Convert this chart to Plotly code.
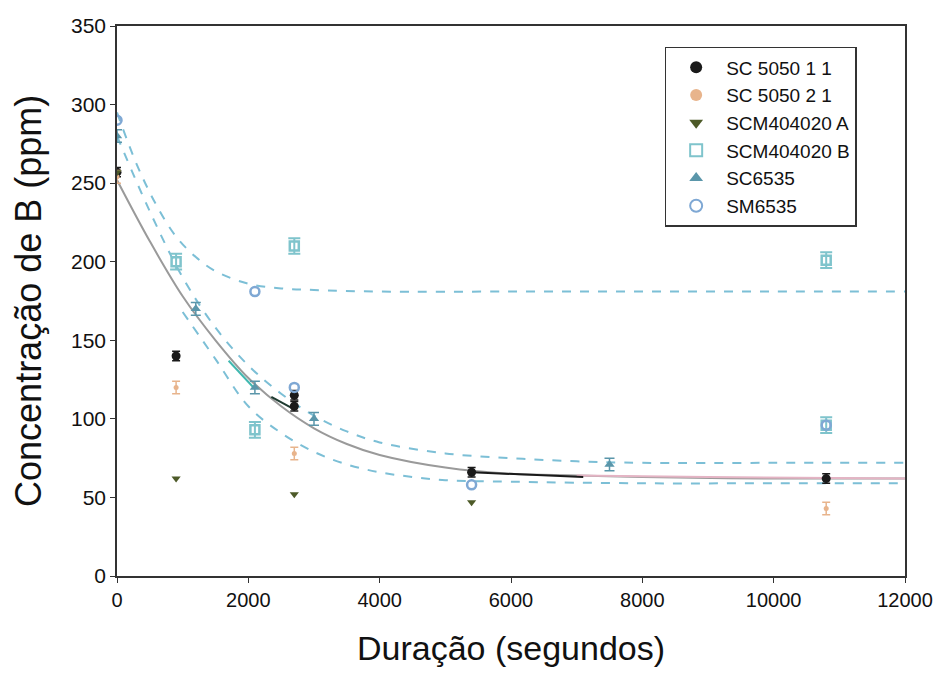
import plotly.graph_objects as go

# ---- data ----
sc5050_11_x = [0, 900, 2700, 2700, 5400, 10800]
sc5050_11_y = [257, 140, 115, 108, 66, 62]

sc5050_21_x = [0, 900, 2700, 10800]
sc5050_21_y = [254, 120, 78, 43]

scm_a_x = [0, 900, 2700, 5400]
scm_a_y = [257, 62, 52, 47]

scm_b_x = [900, 2100, 2700, 10800, 10800]
scm_b_y = [200, 93, 210, 201, 96]

sc6535_x = [0, 1200, 2100, 3000, 7500]
sc6535_y = [280, 170, 120, 100, 71]

sm6535_x = [0, 2100, 2700, 5400, 10800]
sm6535_y = [290, 181, 120, 58, 96]

x_tickvals = [0, 2000, 4000, 6000, 8000, 10000, 12000]
x_ticktext = ["0", "2000", "4000", "6000", "8000", "10000", "12000"]
y_tickvals = [0, 50, 100, 150, 200, 250, 300, 350]

# fitted curves
fit_gray_x = [0, 500, 1000, 1500, 2000, 2500, 3000, 3500, 4000, 5000, 6000, 7000, 8000, 10000, 12000]
fit_gray_y = [252, 213, 178, 150, 126, 108, 94, 84, 77, 69, 65, 64, 63, 62, 62]

fit_up_x = [0, 300, 600, 900, 1200, 1500, 2000, 2500, 3000, 4000, 6000, 8000, 10000, 12000]
fit_up_y = [295, 262, 236, 216, 203, 194, 186, 183, 182, 181, 181, 181, 181, 181]

fit_mid_x = [0, 500, 1000, 1500, 2000, 2500, 3000, 3500, 4000, 5000, 6000, 7000, 8000, 10000, 12000]
fit_mid_y = [280, 232, 190, 158, 134, 116, 102, 92, 85, 78, 75, 73, 72, 72, 72]

fit_low_x = [1000, 1500, 2000, 2500, 3000, 3500, 4000, 4500, 5000, 6000, 8000, 10000, 12000]
fit_low_y = [168, 138, 108, 91, 79, 71, 66, 63, 61, 60, 59, 59, 59]

seg_black_x = [5400, 6000, 7100]
seg_black_y = [66, 65, 63]
seg_black2_x = [2350, 2700]
seg_black2_y = [114, 106]
seg_teal_x = [1700, 2100]
seg_teal_y = [137, 119]
seg_pink_x = [7000, 9000, 12000]
seg_pink_y = [64, 63, 62]

fig = go.Figure()

dash_col = "#7cbfd6"
fig.add_trace(go.Scatter(x=fit_gray_x, y=fit_gray_y, mode="lines", line=dict(color="#9a9a9a", width=2, shape="spline"), showlegend=False))
fig.add_trace(go.Scatter(x=seg_pink_x, y=seg_pink_y, mode="lines", line=dict(color="#e4b4c4", width=2), showlegend=False))
fig.add_trace(go.Scatter(x=fit_up_x, y=fit_up_y, mode="lines", line=dict(color=dash_col, width=2, dash="dash", shape="spline"), showlegend=False))
fig.add_trace(go.Scatter(x=fit_mid_x, y=fit_mid_y, mode="lines", line=dict(color=dash_col, width=2, dash="dash", shape="spline"), showlegend=False))
fig.add_trace(go.Scatter(x=fit_low_x, y=fit_low_y, mode="lines", line=dict(color=dash_col, width=2, dash="dash", shape="spline"), showlegend=False))
fig.add_trace(go.Scatter(x=seg_black_x, y=seg_black_y, mode="lines", line=dict(color="#1a1a1a", width=2), showlegend=False))
fig.add_trace(go.Scatter(x=seg_black2_x, y=seg_black2_y, mode="lines", line=dict(color="#1d3a30", width=2), showlegend=False))
fig.add_trace(go.Scatter(x=seg_teal_x, y=seg_teal_y, mode="lines", line=dict(color="#40b8b0", width=2), showlegend=False))

fig.add_trace(go.Scatter(x=sc5050_11_x, y=sc5050_11_y, mode="markers", name="SC 5050 1 1",
                         marker=dict(symbol="circle", size=9, color="#1a1a1a"),
                         error_y=dict(type="data", array=[3] * len(sc5050_11_y), color="#1a1a1a", thickness=1.5, width=4)))
fig.add_trace(go.Scatter(x=sc5050_21_x, y=sc5050_21_y, mode="markers", name="SC 5050 2 1",
                         marker=dict(symbol="circle", size=5, color="#e8b48c"),
                         error_y=dict(type="data", array=[4] * len(sc5050_21_y), color="#e8b48c", thickness=1.5, width=4)))
fig.add_trace(go.Scatter(x=scm_a_x, y=scm_a_y, mode="markers", name="SCM404020 A",
                         marker=dict(symbol="triangle-down", size=8, color="#4d5a28")))
fig.add_trace(go.Scatter(x=scm_b_x, y=scm_b_y, mode="markers", name="SCM404020 B",
                         marker=dict(symbol="square-open", size=9, color="#7fc4cc", line=dict(width=2.5)),
                         error_y=dict(type="data", array=[5] * len(scm_b_y), color="#7fc4cc", thickness=2, width=6)))
fig.add_trace(go.Scatter(x=sc6535_x, y=sc6535_y, mode="markers", name="SC6535",
                         marker=dict(symbol="triangle-up", size=9, color="#5a96aa"),
                         error_y=dict(type="data", array=[4] * len(sc6535_y), color="#5a96aa", thickness=1.5, width=5)))
fig.add_trace(go.Scatter(x=sm6535_x, y=sm6535_y, mode="markers", name="SM6535",
                         marker=dict(symbol="circle-open", size=9, color="#7fa8d4", line=dict(width=2.5))))

font_fam = "Liberation Sans, Arial"
axis_common = dict(showline=True, linecolor="#333", linewidth=1.5, mirror=True, ticks="outside",
                   ticklen=5, tickcolor="#333", showgrid=False, zeroline=False, automargin=False)

fig.update_layout(
    width=938, height=675,
    margin=dict(l=117, r=33, t=26, b=99),
    plot_bgcolor="white", paper_bgcolor="white",
    xaxis=dict(range=[0, 12000], tickvals=x_tickvals, ticktext=x_ticktext,
               tickfont=dict(family=font_fam, size=20, color="#111"),
               title=dict(text="Duração (segundos)", font=dict(family=font_fam, size=34, color="#111"), standoff=26),
               **axis_common),
    yaxis=dict(range=[0, 350], tickvals=y_tickvals,
               tickfont=dict(family=font_fam, size=21, color="#111"),
               **axis_common),
    legend=dict(x=0.695, y=0.962, xanchor="left", yanchor="top", bordercolor="#333", borderwidth=1.5,
                bgcolor="white", font=dict(family=font_fam, size=19, color="#111"),
                tracegroupgap=0, itemsizing="constant", itemwidth=50),
)
fig.add_annotation(text="Concentração de B (ppm)", textangle=-90, xref="paper", yref="paper",
                   x=-0.113, y=0.5, xanchor="center", yanchor="middle", showarrow=False,
                   font=dict(family=font_fam, size=36, color="#111"))

fig.write_html("out.html")
